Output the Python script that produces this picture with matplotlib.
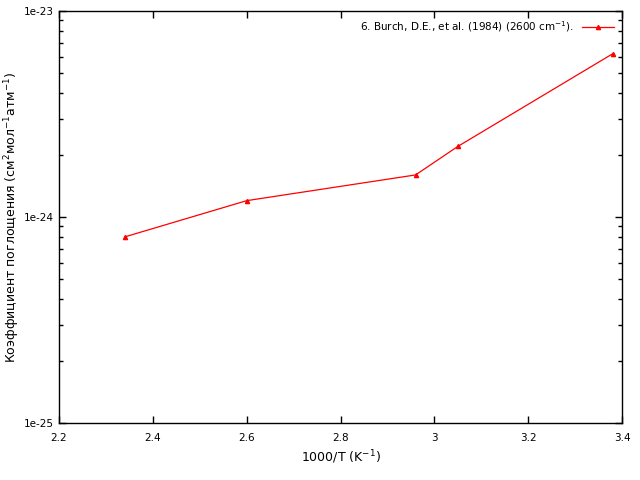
import numpy as np
import matplotlib.pyplot as plt
from matplotlib.ticker import FixedLocator, LogLocator, NullFormatter, FuncFormatter

# data
inv_T = [2.34, 2.60, 2.96, 3.05, 3.38]
absorp = [8.0e-25, 1.2e-24, 1.6e-24, 2.2e-24, 6.2e-24]
label = '6. Burch, D.E., et al. (1984) (2600 cm$^{-1}$).'

fig = plt.figure(figsize=(6.4, 4.8), dpi=100)
ax = fig.add_axes([0.0922, 0.119, 0.8797, 0.858])

ax.plot(inv_T, absorp, color='#ff0000', lw=0.9, marker='^', ms=3, label=label)

ax.set_yscale('log')
ax.set_xlim(2.2, 3.4)
ax.set_ylim(1e-25, 1e-23)

ax.xaxis.set_major_locator(FixedLocator([2.2, 2.4, 2.6, 2.8, 3.0, 3.2, 3.4]))
ax.xaxis.set_major_formatter(FuncFormatter(lambda v, p: ('%.1f' % v).rstrip('0').rstrip('.')))
ax.yaxis.set_major_locator(FixedLocator([1e-25, 1e-24, 1e-23]))
ax.yaxis.set_major_formatter(FuncFormatter(lambda v, p: '1e%d' % round(np.log10(v))))
ax.yaxis.set_minor_locator(LogLocator(base=10, subs=np.arange(2, 10)))
ax.yaxis.set_minor_formatter(NullFormatter())

ax.tick_params(which='both', direction='in', top=True, right=True, labelsize=7.5, colors='black')
ax.tick_params(which='major', length=5, width=1)
ax.tick_params(which='minor', length=3, width=1)
ax.tick_params(axis='x', pad=7)
for s in ax.spines.values():
    s.set_linewidth(1)

ax.set_xlabel('1000/T (K$^{-1}$)', fontsize=9, va='center')
ax.set_ylabel('Коэффициент поглощения (см$^{2}$мол$^{-1}$атм$^{-1}$)', fontsize=9, va='center')
ax.xaxis.set_label_coords(0.5, -0.083)
ax.yaxis.set_label_coords(-0.083, 0.5)

ax.legend(loc='upper right', frameon=False, fontsize=7.5, markerfirst=False,
          handlelength=3.0, borderaxespad=0.4)

fig.savefig('out.png', dpi=100)
